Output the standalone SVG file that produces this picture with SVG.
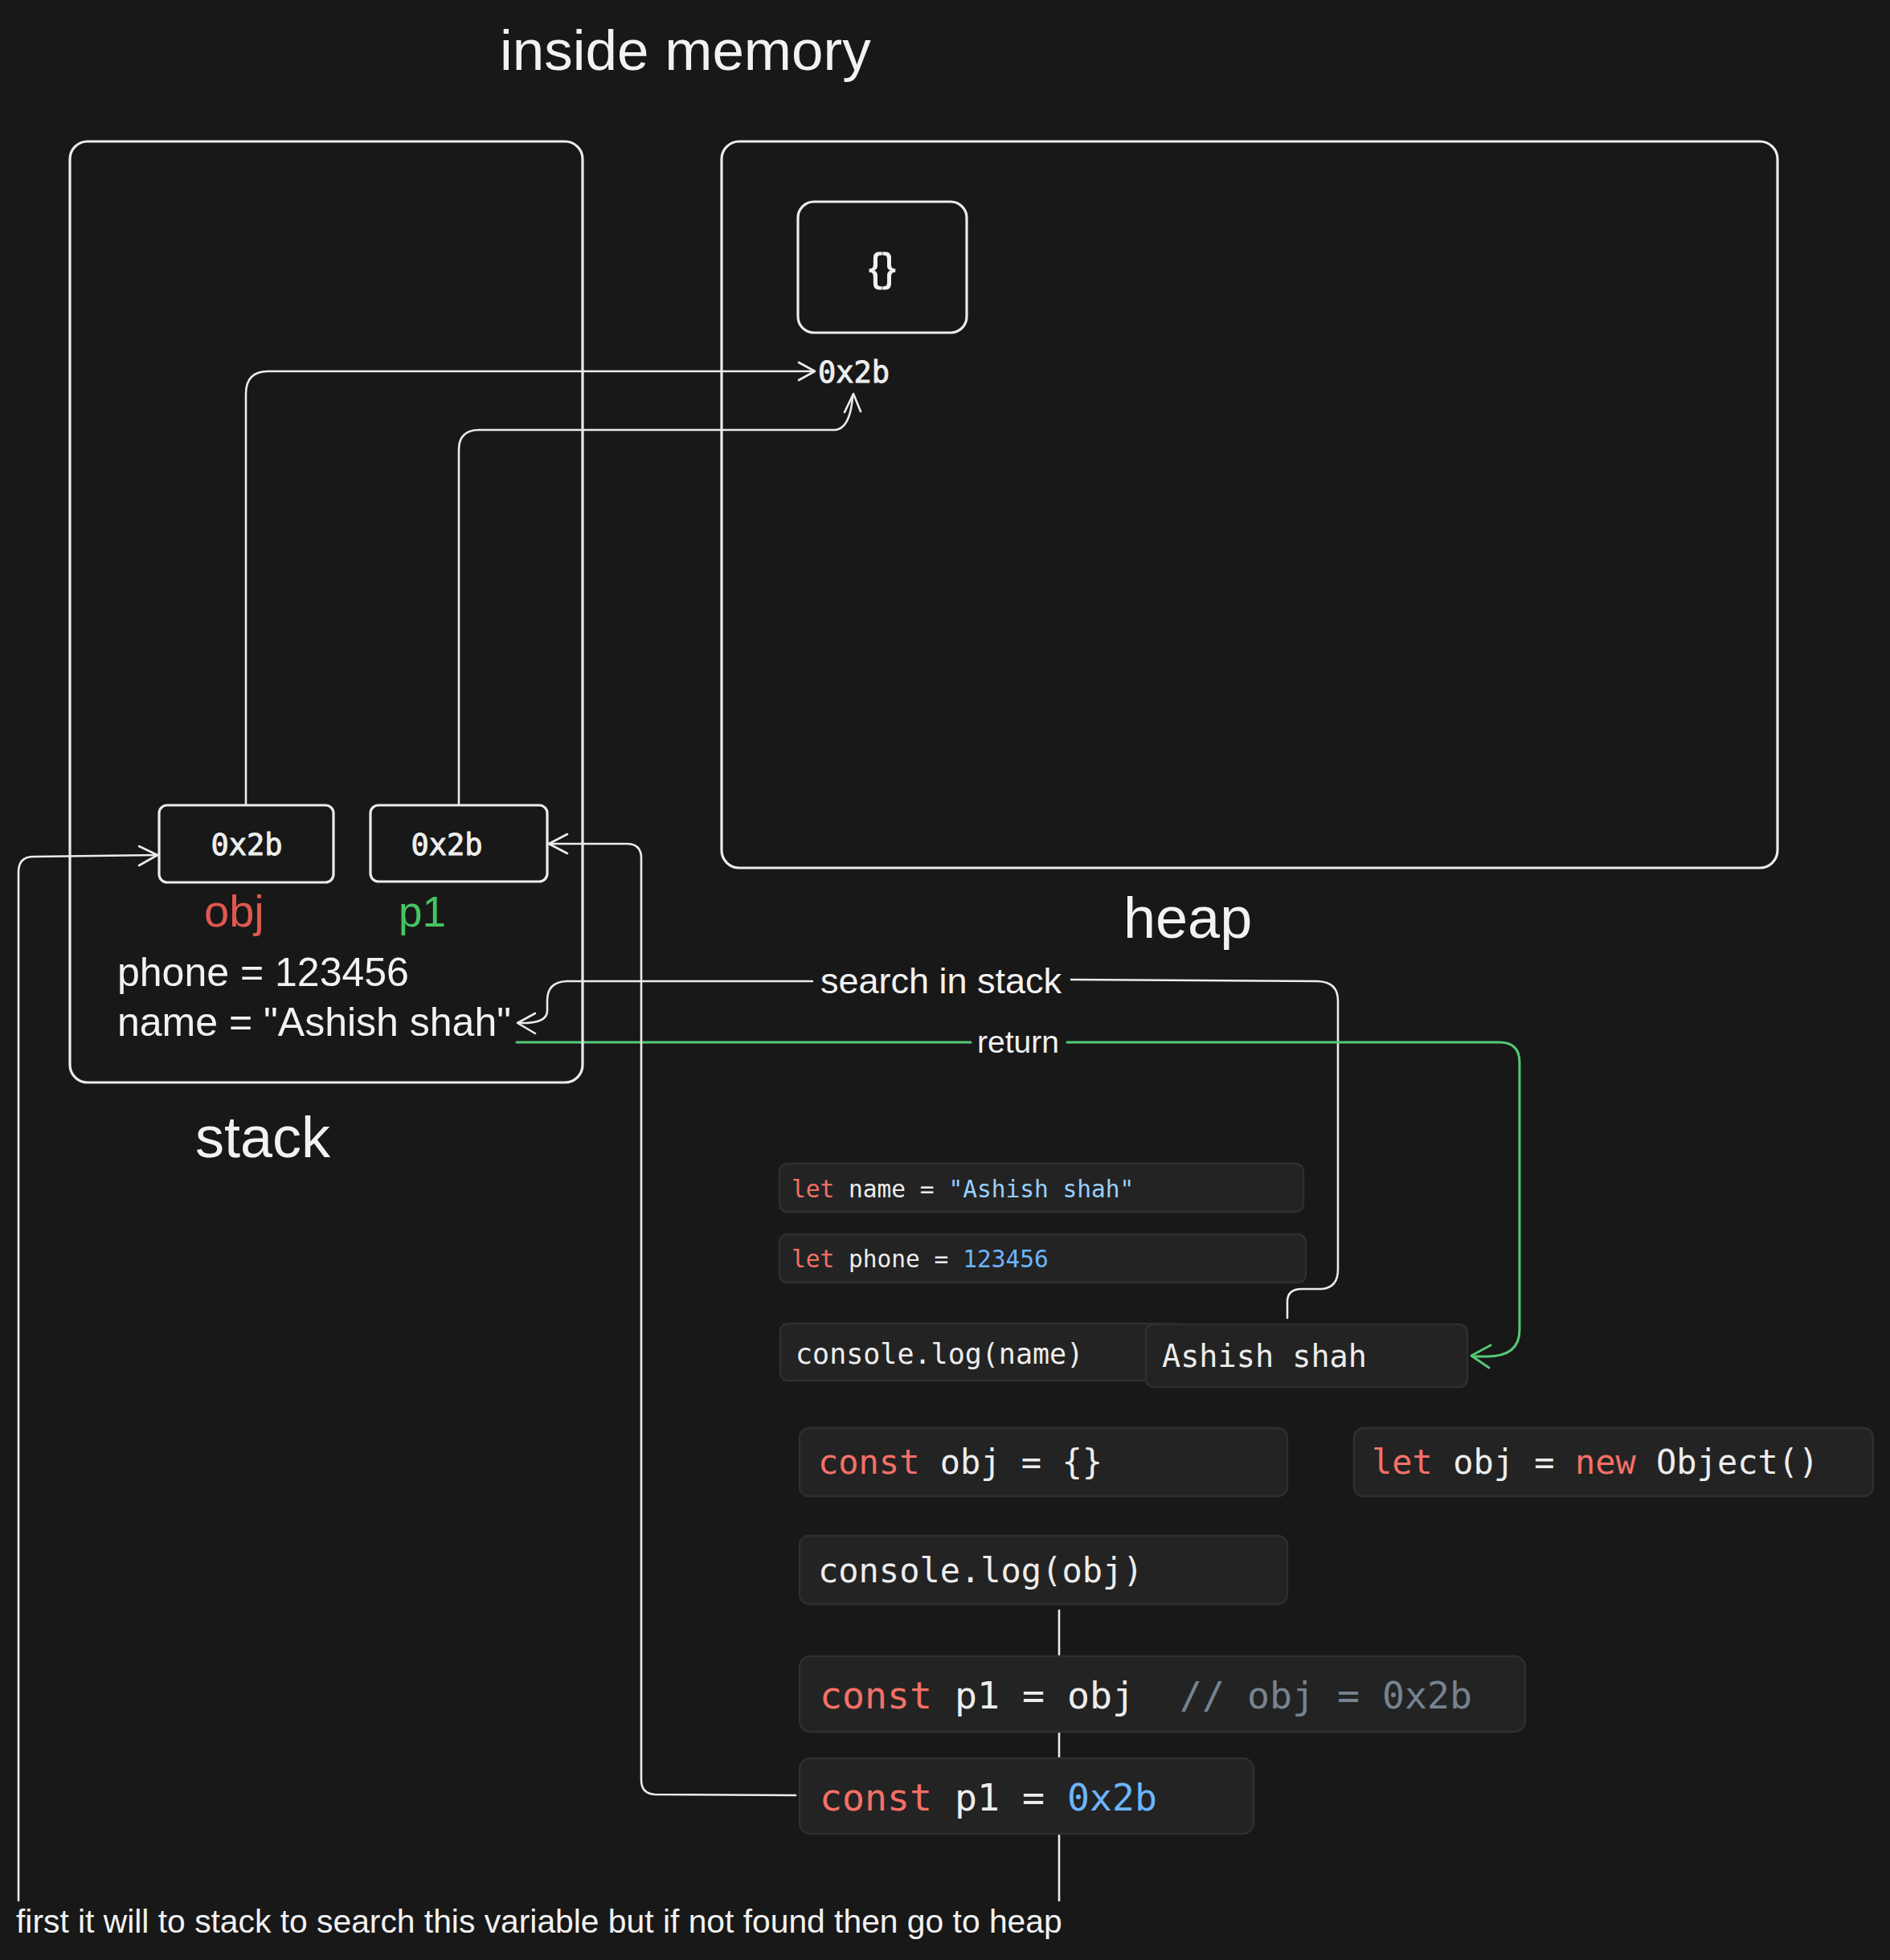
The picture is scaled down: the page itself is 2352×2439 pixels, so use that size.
<svg xmlns="http://www.w3.org/2000/svg" width="2352" height="2439" viewBox="0 0 2352 2439">
<style>
.bg{fill:#181818}
.box{fill:none;stroke:#ececec;stroke-width:3.2}
.ln{fill:none;stroke:#ececec;stroke-width:2.6;stroke-linecap:round;stroke-linejoin:round}
.gl{fill:none;stroke:#55c977;stroke-width:3;stroke-linecap:round;stroke-linejoin:round}
.code{fill:#232323;stroke:#2f2f2f;stroke-width:2.5}
.hand{font-family:"Liberation Sans",Arial,sans-serif;fill:#f2f2f2}
.mono{font-family:"DejaVu Sans Mono","Liberation Mono",monospace;fill:#ededed}
.addr{stroke:#f2f2f2;stroke-width:0.9}
.kw{fill:#f47067}
.str{fill:#96d0ff}
.num{fill:#6cb6ff}
.cm{fill:#768390}
</style>
<rect class="bg" x="0" y="0" width="2352" height="2439"/>

<g id="connectors">
  <!-- obj -> heap 0x2b -->
  <path class="ln" d="M306,1000 L306,490 Q306,462 334,462 L1012,462"/>
  <path class="ln" d="M994,451 L1014,462 L994,473"/>
  <!-- p1 -> heap 0x2b -->
  <path class="ln" d="M571,1000 L571,560 Q571,535 596,535 L1040,535 Q1058,532 1061,494"/>
  <path class="ln" d="M1051,513 L1062,490 L1071,512"/>
  <!-- search in stack -->
  <path class="ln" d="M1602,1640 L1602,1620 Q1602,1604 1620,1604 L1645,1604 Q1665,1602 1665,1580 L1665,1245 Q1665,1222 1640,1221 L1333,1219"/>
  <path class="ln" d="M1011,1221 L705,1221 Q681,1222 681,1245 L681,1258 Q681,1274 646,1273"/>
  <path class="ln" d="M666,1261 L644,1273 L666,1286"/>
  <text class="hand" x="1171" y="1236" font-size="45" text-anchor="middle">search in stack</text>
  <!-- return -->
  <path class="gl" d="M643,1297 L1208,1297"/>
  <path class="gl" d="M1328,1297 L1866,1297 Q1891,1297 1891,1322 L1891,1655 Q1891,1688 1850,1688 L1833,1688"/>
  <path class="gl" d="M1855,1674 L1831,1687 L1853,1702"/>
  <text class="hand" x="1267" y="1310" font-size="39" text-anchor="middle">return</text>
  <!-- const p1 = 0x2b -> p1 box -->
  <path class="ln" d="M990,2234 L815,2233 Q798,2232 798,2215 L798,1068 Q798,1050 780,1050 L686,1050"/>
  <path class="ln" d="M706,1038 L683,1050 L706,1062"/>
  <!-- bottom left -> obj box -->
  <path class="ln" d="M23,2365 L23,1085 Q23,1066 42,1066 L194,1064"/>
  <path class="ln" d="M173,1053 L196,1064 L173,1077"/>
  <!-- vertical line through code blocks -->
  <path class="ln" d="M1318,2004 L1318,2365"/>
</g>

<g id="title">
  <text class="hand" x="622" y="87" font-size="71">inside memory</text>
</g>

<g id="stack">
  <rect class="box" x="87" y="176" width="638" height="1171" rx="22"/>
  <text class="hand" x="243" y="1440" font-size="72">stack</text>
  <text class="hand" x="146" y="1227" font-size="50">phone = 123456</text>
  <text class="hand" x="146" y="1289" font-size="50">name = "Ashish shah"</text>
</g>

<g id="obj-box">
  <rect class="box" x="198" y="1002" width="217" height="96" rx="10"/>
  <text class="mono addr" x="307" y="1064" font-size="37" text-anchor="middle">0x2b</text>
  <text class="hand" x="254" y="1153" font-size="56" style="fill:#e0584f">obj</text>
</g>

<g id="p1-box">
  <rect class="box" x="461" y="1002" width="220" height="95" rx="10"/>
  <text class="mono addr" x="556" y="1064" font-size="37" text-anchor="middle">0x2b</text>
  <text class="hand" x="496" y="1153" font-size="53" style="fill:#45c463">p1</text>
</g>

<g id="heap">
  <rect class="box" x="898" y="176" width="1314" height="904" rx="22"/>
  <text class="hand" x="1398" y="1167" font-size="72">heap</text>
</g>

<g id="heap-object">
  <rect class="box" x="993" y="251" width="210" height="163" rx="20"/>
  <text class="hand addr" x="1098" y="350" font-size="50" text-anchor="middle">{}</text>
  <text class="mono addr" x="1018" y="476" font-size="37">0x2b</text>
</g>

<g id="code-let-name">
  <rect class="code" x="970" y="1448" width="652" height="60" rx="10"/>
  <text class="mono" x="985" y="1490" font-size="29.5"><tspan class="kw">let</tspan> name = <tspan class="str">"Ashish shah"</tspan></text>
</g>

<g id="code-let-phone">
  <rect class="code" x="970" y="1536" width="655" height="60" rx="10"/>
  <text class="mono" x="985" y="1577" font-size="29.5"><tspan class="kw">let</tspan> phone = <tspan class="num">123456</tspan></text>
</g>

<g id="code-console-name">
  <rect class="code" x="971" y="1647" width="500" height="71" rx="10"/>
  <text class="mono" x="990" y="1697" font-size="35">console.log(name)</text>
</g>

<g id="output-ashish">
  <rect class="code" x="1426" y="1648" width="400" height="78" rx="10"/>
  <text class="mono" x="1446" y="1701" font-size="38.5">Ashish shah</text>
</g>

<g id="code-const-obj">
  <rect class="code" x="995" y="1777" width="607" height="85" rx="12"/>
  <text class="mono" x="1018" y="1834" font-size="42"><tspan class="kw">const</tspan> obj = {}</text>
</g>

<g id="code-new-object">
  <rect class="code" x="1685" y="1777" width="646" height="85" rx="12"/>
  <text class="mono" x="1707" y="1834" font-size="42"><tspan class="kw">let</tspan> obj = <tspan class="kw">new</tspan> Object()</text>
</g>

<g id="code-console-obj">
  <rect class="code" x="995" y="1911" width="607" height="85" rx="12"/>
  <text class="mono" x="1018" y="1969" font-size="42">console.log(obj)</text>
</g>

<g id="code-p1-obj">
  <rect class="code" x="995" y="2061" width="903" height="94" rx="14"/>
  <text class="mono" x="1020" y="2126" font-size="46.5" xml:space="preserve"><tspan class="kw">const</tspan> p1 = obj  <tspan class="cm">// obj = 0x2b</tspan></text>
</g>

<g id="code-p1-addr">
  <rect class="code" x="995" y="2188" width="565" height="94" rx="14"/>
  <text class="mono" x="1020" y="2253" font-size="46.5"><tspan class="kw">const</tspan> p1 = <tspan class="num">0x2b</tspan></text>
</g>

<g id="note">
  <text class="hand" x="20" y="2405" font-size="40.8">first it will to stack to search this variable but if not found then go to heap</text>
</g>
</svg>
